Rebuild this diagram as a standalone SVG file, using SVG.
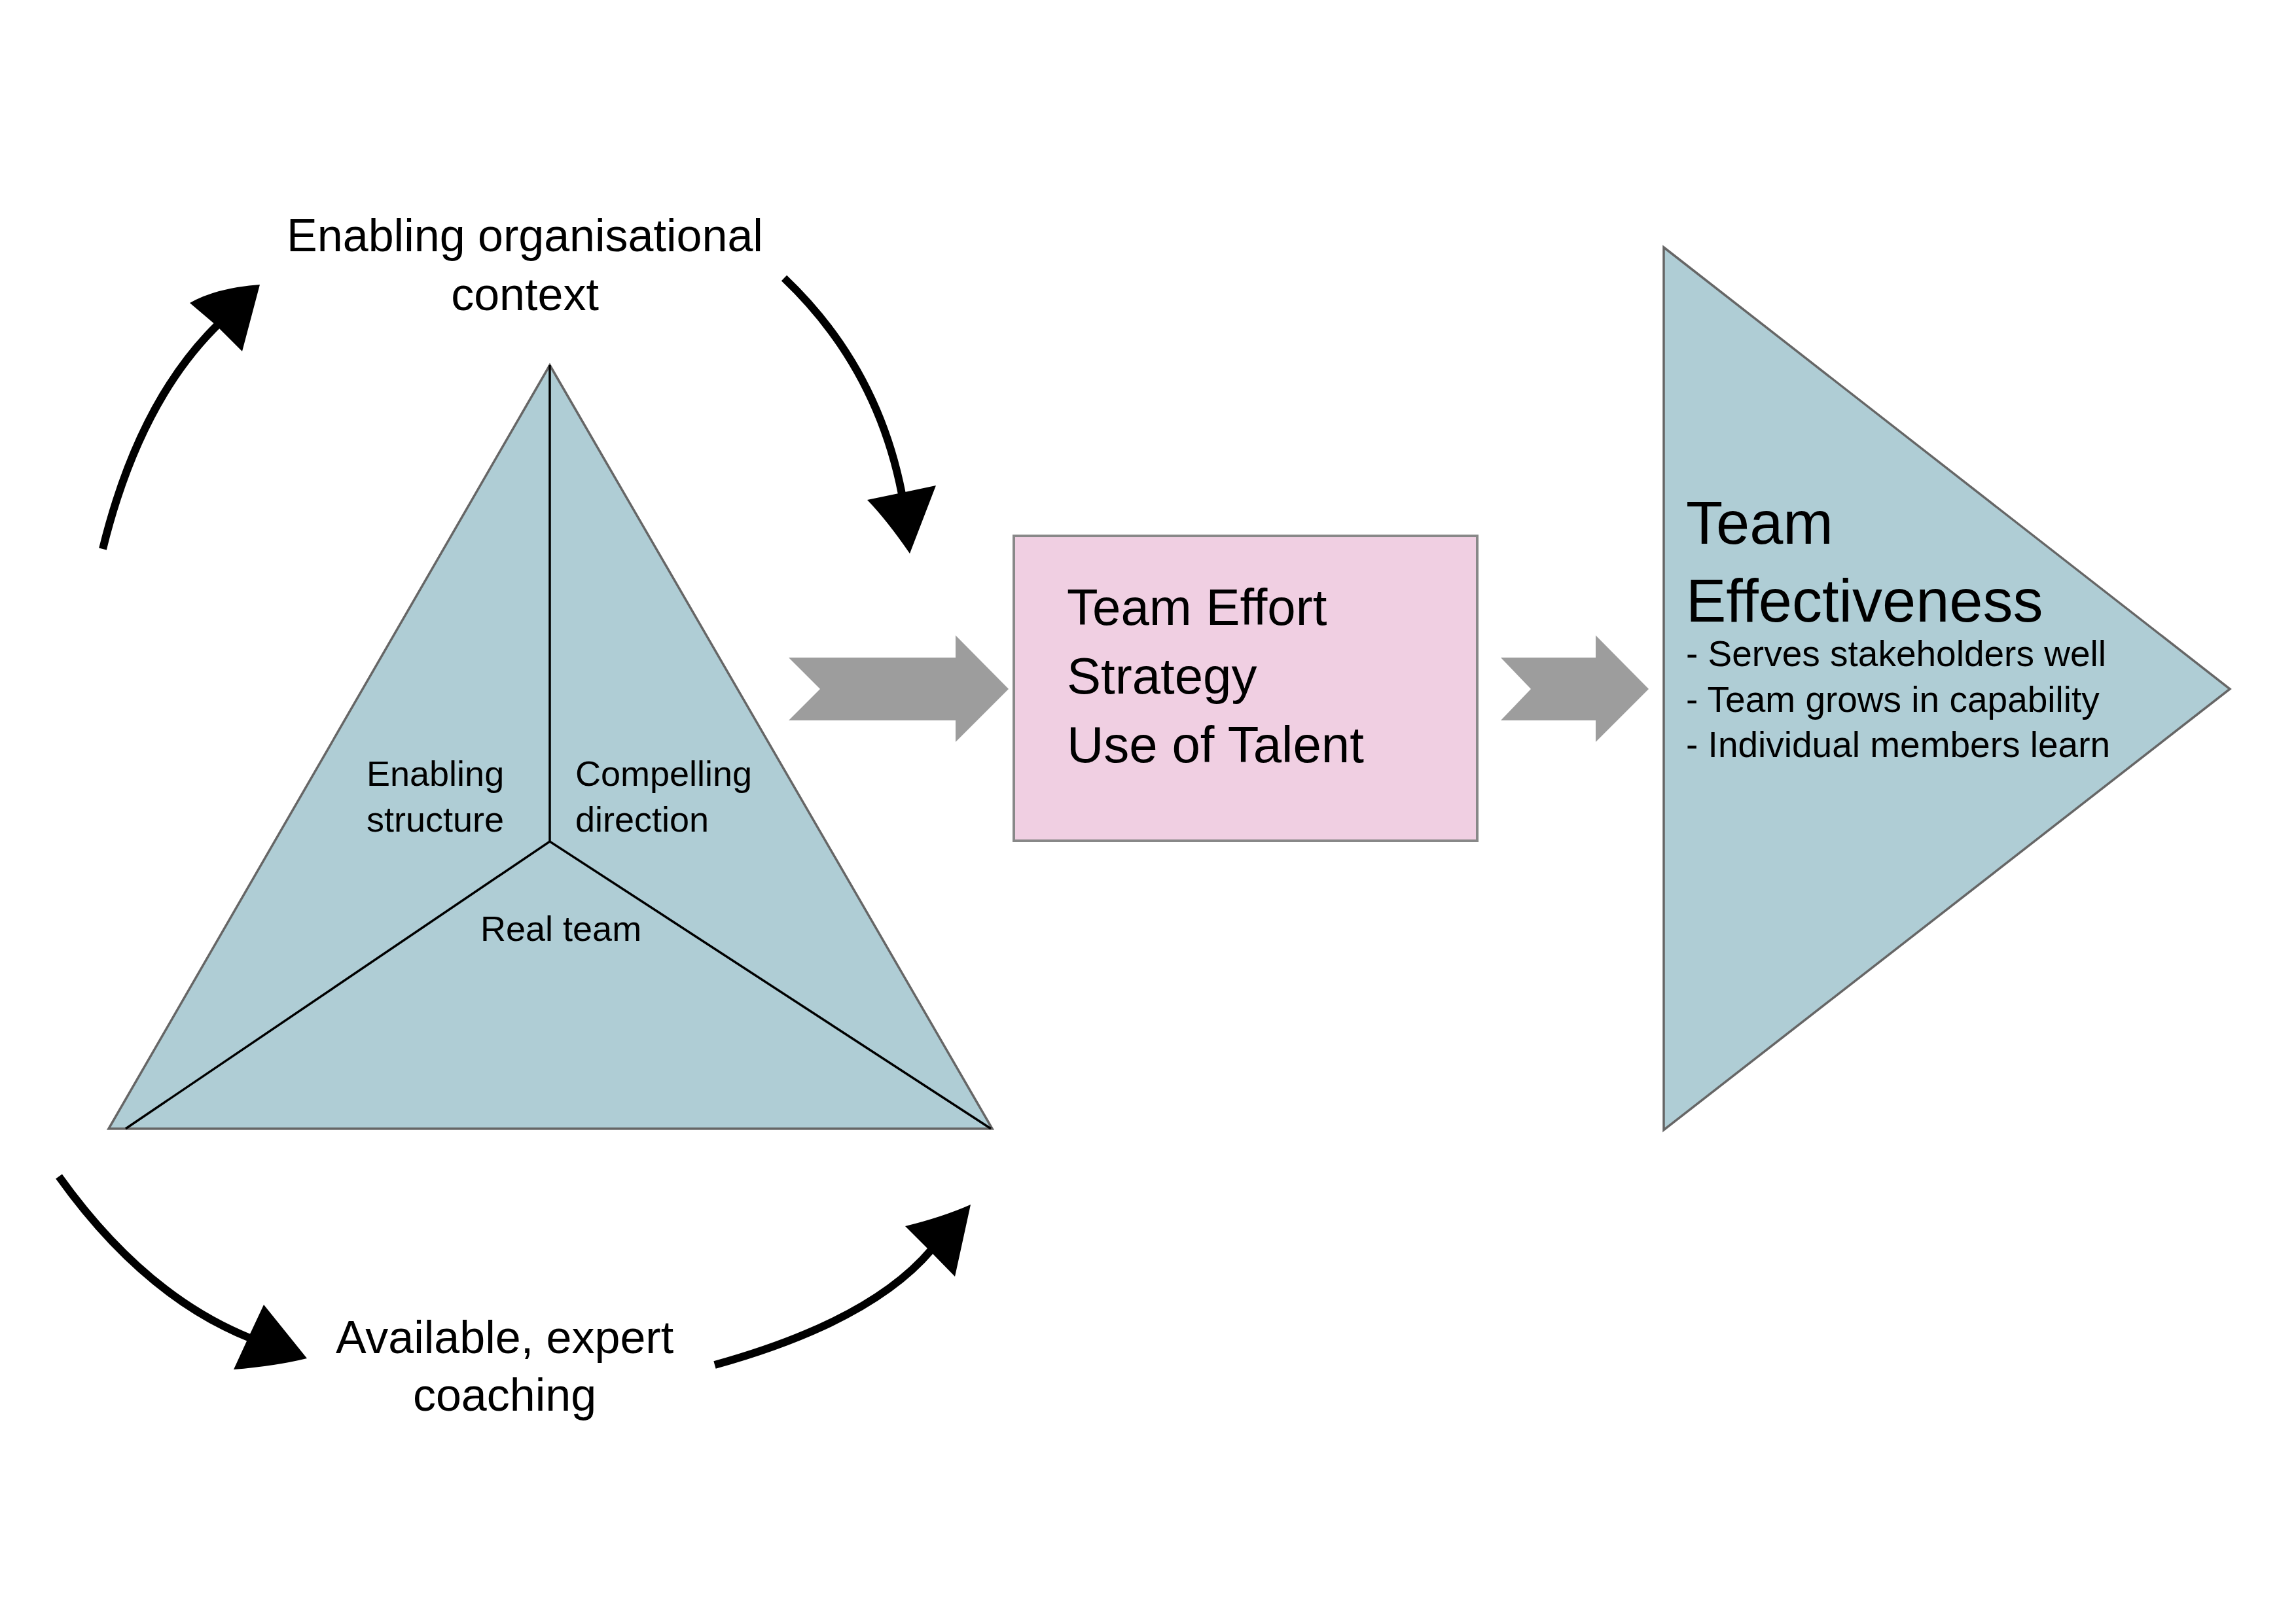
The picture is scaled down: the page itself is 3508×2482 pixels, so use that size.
<svg xmlns="http://www.w3.org/2000/svg" width="3508" height="2482" viewBox="0 0 3508 2482">
<style>
  text { font-family: "Liberation Sans", Arial, sans-serif; fill: #000; }
  .tri { fill: #afcdd5; stroke: #666; stroke-width: 3.5; stroke-linejoin: miter; }
  .inner { fill: none; stroke: #000; stroke-width: 3.5; }
  .box { fill: #f0cfe2; stroke: #888; stroke-width: 4; }
  .gray { fill: #9d9d9d; }
  .curve { fill: none; stroke: #000; stroke-width: 12; }
  .head { fill: #000; }
  .lbl { font-size: 70px; text-anchor: middle; }
  .tl { font-size: 54px; }
  .bx { font-size: 78px; }
  .eff { font-size: 92px; }
  .bul { font-size: 55px; }
</style>
<rect x="0" y="0" width="3508" height="2482" fill="#fff"/>

<g id="model-triangle">
  <polygon class="tri" points="840,558 1516,1725 166,1725"/>
  <polyline class="inner" points="840,558 840,1286"/>
  <polyline class="inner" points="192,1725 840,1286 1514,1725"/>
  <text class="tl" x="560" y="1201">Enabling</text>
  <text class="tl" x="560" y="1271">structure</text>
  <text class="tl" x="879" y="1201">Compelling</text>
  <text class="tl" x="879" y="1271">direction</text>
  <text class="tl" x="734" y="1438">Real team</text>
</g>

<g id="context-label">
  <text class="lbl" x="802" y="384">Enabling organisational</text>
  <text class="lbl" x="802" y="474">context</text>
</g>

<g id="coaching-label">
  <text class="lbl" x="771" y="2068">Available, expert</text>
  <text class="lbl" x="771" y="2156">coaching</text>
</g>

<g id="process-box">
  <rect class="box" x="1549" y="819" width="708" height="466"/>
  <text class="bx" x="1630" y="955">Team Effort</text>
  <text class="bx" x="1630" y="1060">Strategy</text>
  <text class="bx" x="1630" y="1165">Use of Talent</text>
</g>

<g id="effectiveness">
  <polygon class="tri" points="2542,378 3407,1053 2542,1727"/>
  <text class="eff" x="2576" y="831">Team</text>
  <text class="eff" x="2576" y="950">Effectiveness</text>
  <text class="bul" x="2576" y="1018">- Serves stakeholders well</text>
  <text class="bul" x="2576" y="1088">- Team grows in capability</text>
  <text class="bul" x="2576" y="1157">- Individual members learn</text>
</g>

<g id="connectors">
  <polygon class="gray" points="1205,1005 1460,1005 1460,971 1541,1053 1460,1134 1460,1101 1205,1101 1253,1053"/>
  <polygon class="gray" points="2293,1005 2438,1005 2438,971 2519,1053 2438,1134 2438,1101 2293,1101 2339,1053"/>

  <path class="curve" d="M157,839 Q212,615 332,497"/>
  <path class="head" d="M397,435 L370,537 L330,497 L290,463 Q330,440 397,435 Z"/>

  <path class="curve" d="M1198,425 Q1340,560 1378,755"/>
  <path class="head" d="M1390,846 Q1355,795 1325,764 L1378,753 L1430,742 Z"/>

  <path class="curve" d="M90,1798 Q220,1980 382,2045"/>
  <path class="head" d="M469,2076 L403,1994 L380,2043 L357,2093 Q420,2088 469,2076 Z"/>

  <path class="curve" d="M1092,2086 Q1330,2020 1423,1910"/>
  <path class="head" d="M1483,1841 L1459,1951 L1421,1912 L1383,1874 Q1440,1860 1483,1841 Z"/>
</g>
</svg>
